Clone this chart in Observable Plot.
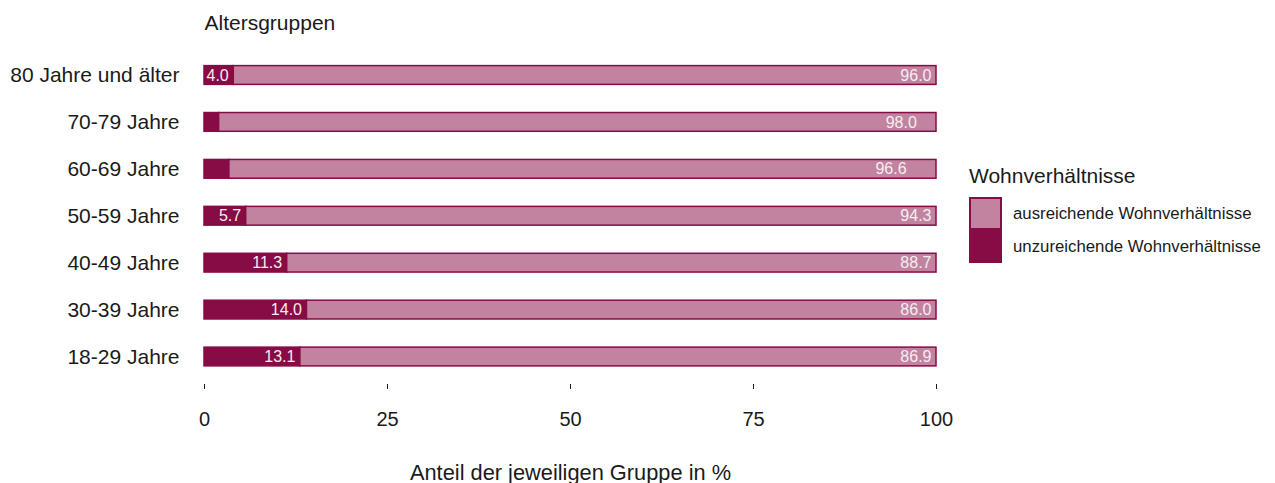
<!DOCTYPE html>
<html><head><meta charset="utf-8">
<script src="https://cdn.jsdelivr.net/npm/d3@7"></script>
<script src="https://cdn.jsdelivr.net/npm/@observablehq/plot@0.6"></script>
<style>
body{margin:0;background:#fff;font-family:"Liberation Sans",Arial,sans-serif;}
#wrap{position:relative;width:1275px;height:483px;overflow:hidden;}
#legend{position:absolute;left:969px;top:164px;color:#1a1a1a;}
#legend .t{font-size:21px;line-height:24px;margin-bottom:9px;white-space:nowrap;}
#legend .row{display:flex;align-items:center;height:33px;}
#legend .sw{width:29px;height:29px;border:2px solid #870b45;box-sizing:content-box;margin-right:11px;}
#legend .lab{font-size:16.8px;white-space:nowrap;}
</style></head>
<body><div id="wrap"></div>
<script>
const groups = ["80 Jahre und älter","70-79 Jahre","60-69 Jahre","50-59 Jahre","40-49 Jahre","30-39 Jahre","18-29 Jahre"];
const unzureichend = [4.0, 2.0, 3.4, 5.7, 11.3, 14.0, 13.1];
const ausreichend = [96.0, 98.0, 96.6, 94.3, 88.7, 86.0, 86.9];
const categories = ["unzureichende Wohnverhältnisse","ausreichende Wohnverhältnisse"];
const colors = ["#870b45","#c1839f"];
const xTicks = [0,25,50,75,100];

const data = [];
groups.forEach((g,i)=>{
  data.push({group:g, cat:categories[0], value:unzureichend[i]});
  data.push({group:g, cat:categories[1], value:ausreichend[i]});
});
const order = categories;

const plot = Plot.plot({
  width:1275, height:483,
  marginLeft:204, marginRight:339, marginTop:47.5, marginBottom:99,
  style:{fontFamily:"Liberation Sans, Arial, sans-serif", color:"#1a1a1a", background:"#fff"},
  x:{domain:[0,100]},
  y:{domain:groups, paddingInner:0.6, paddingOuter:0.386, round:false},
  color:{domain:categories, range:colors},
  marks:[
    Plot.barX(data, Plot.stackX({x:"value", y:"group", fill:"cat", order, stroke:"#870b45", strokeWidth:1.5})),
    Plot.text(data.filter(d=>d.value>=4), Plot.stackX2({x:"value", y:"group", z:"cat", order, text:d=>d.value.toFixed(1), textAnchor:"end", dx:-5, fill:"#f5eef2", fontSize:16})),
    Plot.axisY({tickSize:0, tickPadding:25, fontSize:21, label:null}),
    Plot.axisX({ticks:xTicks, tickSize:5, tickPadding:22, fontSize:20, label:null}),
    Plot.axisX({ticks:[], tickSize:0, label:"Anteil der jeweiligen Gruppe in %", labelAnchor:"center", labelArrow:"none", labelOffset:95, fontSize:21.8}),
    Plot.text(["Altersgruppen"], {frameAnchor:"top-left", dy:-33, textAnchor:"start", fontSize:21, fill:"#1a1a1a"})
  ]
});
const wrap = document.getElementById("wrap");
wrap.appendChild(plot);
const leg = document.createElement("div");
leg.id = "legend";
leg.innerHTML = `<div class="t">Wohnverhältnisse</div>` +
  [1,0].map(i=>`<div class="row"><div class="sw" style="background:${colors[i]}"></div><div class="lab">${categories[i]}</div></div>`).join("");
wrap.appendChild(leg);
</script></body></html>
